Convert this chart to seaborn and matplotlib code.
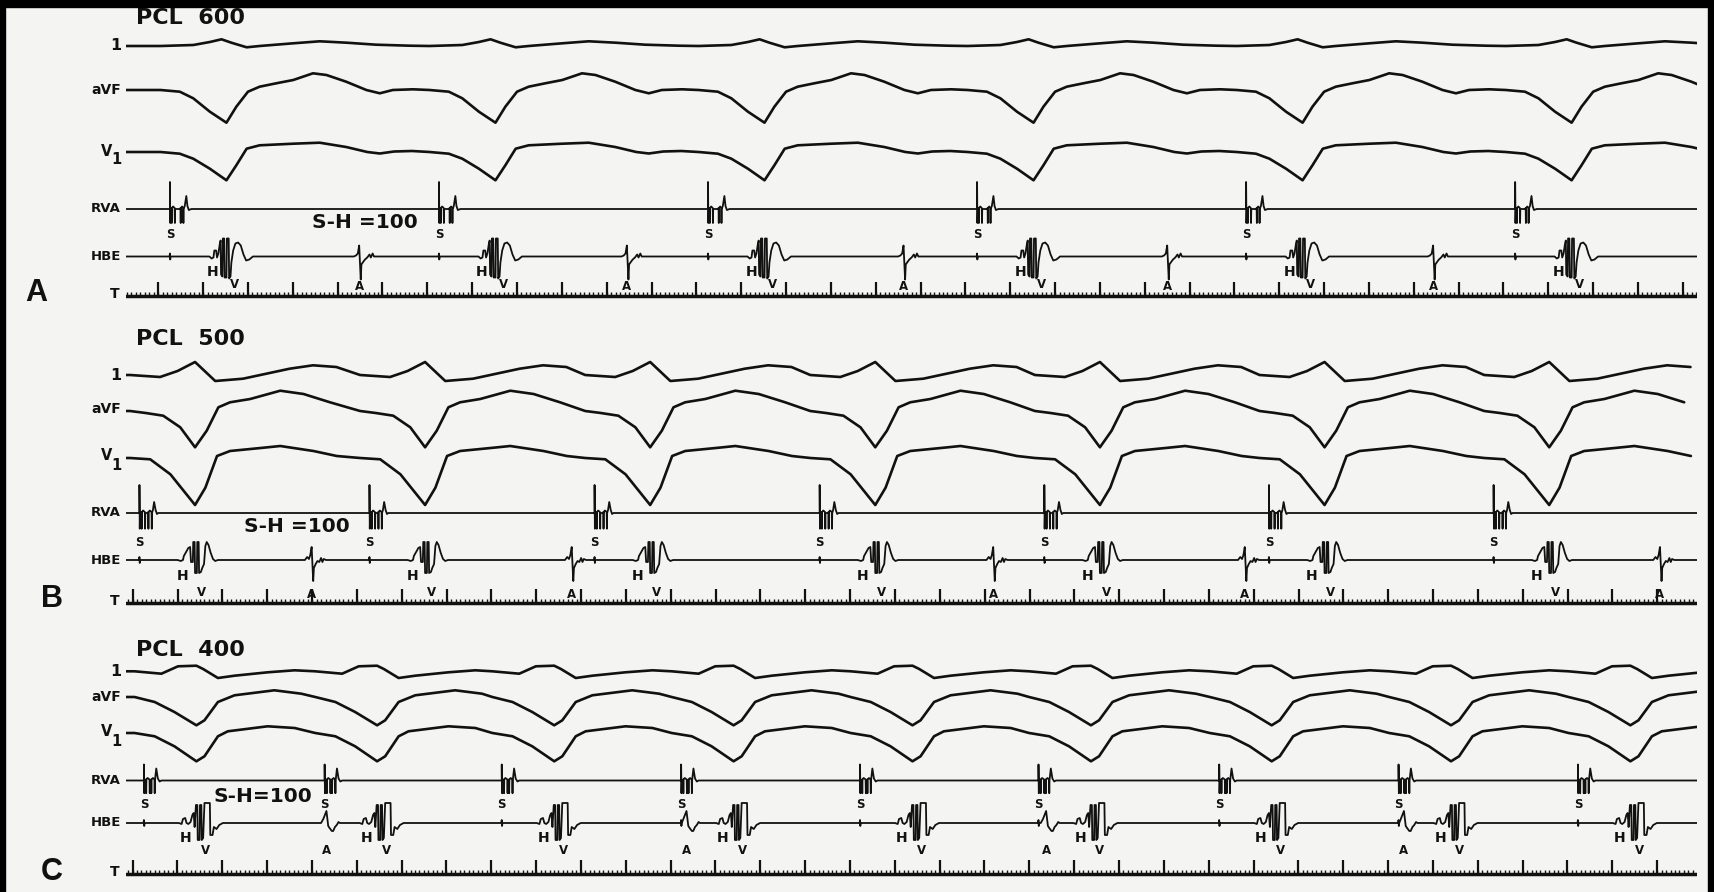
import numpy as np
import pandas as pd
import matplotlib
matplotlib.use("Agg")
import matplotlib.pyplot as plt
from matplotlib.patches import Rectangle
import seaborn as sns

# ------------------------------------------------------------------ data
# times in ms, deflections in px (positive = upwards)
PANELS = ["A", "B", "C"]
TITLES = {"A": "PCL  600", "B": "PCL  500", "C": "PCL  400"}
SH_TEXT = {"A": "S-H =100", "B": "S-H =100", "C": "S-H=100"}

# stimulus (S) times and atrial (A) times on the HBE per panel
S_A = [98, 698, 1298, 1898, 2498, 3098]
S_B = [30, 543, 1045, 1547, 2048, 2549, 3050]
S_C = [40, 443, 838, 1238, 1637, 2035, 2438, 2838, 3238]
A_A = [520, 1117, 1734, 2322, 2915]
A_B = [414, 994, 1934, 2495, 3421]
A_C = [447, 1250, 2052, 2850]

# surface leads, one beat (ms after S, deflection)
L1_A_T = [-21, 52, 89, 115, 137, 171, 200, 275, 334, 394, 460, 535]
L1_A_V = [0, 1, 4, 6.7, 3.3, -1.3, 0, 2.7, 4.7, 3.3, 1.3, 0.3]
AVF_A_T = [-21, 22, 52, 89, 126, 148, 174, 200, 237, 275, 319, 349, 393, 438, 468, 497, 542]
AVF_A_V = [0, -1.7, -8.3, -21.7, -32.7, -16.7, -1.7, 3.3, 6.7, 10, 16.7, 15, 8.3, 0, -3.3, 0, 0.7]
V1_A_T = [-21, 22, 52, 89, 126, 148, 171, 200, 275, 334, 393, 440, 468, 500, 540]
V1_A_V = [0, -1.7, -6.7, -16.7, -28.3, -13.3, 3.3, 6.7, 8.3, 9.3, 5, 0, -1.5, 0.5, 1]

L1_B_T = [-21, 46, 85, 124, 169, 231, 283, 335, 387, 439]
L1_B_V = [2, 0, 6, 15, -4, -1.7, 3.3, 8.3, 11.7, 10]
AVF_B_T = [-21, 14, 53, 91, 124, 150, 176, 202, 247, 314, 366, 425]
AVF_B_V = [-2, -4, -6.7, -18.3, -38.3, -21.7, 1.7, 6.7, 10, 18.3, 15, 6.7]
V1_B_T = [-21, 24, 69, 124, 147, 173, 202, 277, 314, 388, 440]
V1_B_V = [-1, -2.3, -17.3, -48, -30.7, 1, 6, 9.3, 11, 6, 1]

L1_C_T = [-21, 39, 76, 117, 132, 165, 202, 276, 336]
L1_C_V = [1.7, -0.7, 6.7, 7.3, 4, -5, -2.7, 0.7, 2.7]
AVF_C_T = [-21, 24, 68, 117, 135, 165, 202, 291, 351]
AVF_C_V = [0, -5, -15, -28.3, -23.3, -5, 1.7, 6.7, 3.3]
V1_C_T = [-21, 24, 68, 117, 135, 165, 187, 276, 336]
V1_C_V = [0, -3.3, -13.3, -28.3, -23.3, -3.3, 1.7, 6.7, 5]

# RVA electrogram after each stimulus
RVA_A_T = [-4, 0, 0, 0.7, 1.5, 3.5, 4, 4.5, 7, 10.5, 11, 11.5, 14, 22, 23.5, 24, 24.5, 27, 29.5, 30, 30.5, 33, 36.5, 39, 42, 48]
RVA_A_V = [0, 0, 27, -14, 0, 1, -14, 1, 2.5, 1, -14, 0, 0, 0, 1, -14, 1, 2.5, 1, -14, 0, 3, 13, 3, -1, 0]
RVA_B_T = [-4, 0, 0, 0.7, 1.5, 4.5, 5, 5.5, 8, 12, 12.5, 13, 15, 19, 19.5, 20, 20.5, 23, 27, 27.5, 28, 30, 32.7, 36, 39, 42]
RVA_B_V = [0, 0, 28, -15.7, 0, 1, -15.7, 1, 2.5, 1, -15.7, 0, 0, 0, 1, -15.7, 1, 2.5, 1, -15.7, 0, 3, 11, 3, -1, 0]
RVA_C_T = [-4, 0, 0, 0.7, 1.5, 4.5, 5, 5.5, 8, 12.5, 13, 13.5, 15, 16, 16.5, 17, 20, 23.5, 24, 24.5, 27.5, 31, 35, 39]
RVA_C_V = [0, 0, 16, -12.7, 0, 1, -12.7, 1, 2.5, 1, -12.7, 0, 0, 1, -12.7, 1, 2.5, 1, -12.7, 0, 12, 2, -1, 0]

# HBE: stimulus artefact, His-ventricular complex (ms after S), atrial complex (ms about A)
SPIKE_T = [-1, 0, 0.6, 1.5]
SPIKE_V = [0, 3, -3, 0]
HV_A_T = [88, 93, 97, 99, 103, 105, 108, 111, 113, 114, 117, 118, 121, 122, 126, 127, 131, 132, 135, 137, 141, 146, 152, 158, 164, 170, 177, 185]
HV_A_V = [0, -2, -1, 6, 6, -1, 3, 12, 16, -18, -20, 18, 18, -21, -21, 18, 18, -22, -20, -6, 6, 13, 14, 11, 2, -4, -3, 0]
HV_B_T = [85, 92, 97, 99, 104, 109, 113, 115, 119, 120, 123, 124, 128, 129, 132, 133, 137, 140, 144, 147, 150, 154, 159, 164, 169, 175]
HV_B_V = [0, -1, 0, 4, 8, 12, 13, -2, -2, 18, 18, -13, -13, 18, 18, -13, -12, -8, -4, 14, 18, 15, 7, 1, -1, 0]
HV_C_T = [78, 84, 87, 92, 95, 99, 104, 108, 111, 113, 116, 119, 120, 124, 125, 128, 129, 132, 133, 135, 147, 148, 153, 156, 162, 168, 176]
HV_C_V = [0, -1, 4, 5, 0, -1, 1, 8, 10, -4, 18, 18, -17, -17, 18, 18, -17, -15, -3, 20, 20, -12, -12, -4, -6, -2, 0]
AC_A_T = [-12, -7, -3, 0, 3.5, 5, 8, 13, 18, 23, 26, 30, 33, 40]
AC_A_V = [0, 1, 3, 11, -23, -8, -6, -3, -1, 2, -1, 3, 0, 0]
AC_B_T = [-15, -10, -6, -3, 0, 3.5, 5, 9, 13, 17, 21, 24, 27, 32]
AC_B_V = [0, 3, 1, 5, 13, -21, -8, -4, -1, -2, 2, -2, 1, 0]
AC_C_T = [-12, -7, 0, 4, 7, 12, 15, 19, 23, 27, 30]
AC_C_V = [0, 4, 12, -3, -5, -8, -8, -4, -2, 1, 0]

# time-scale: first major (100 ms) tick per panel
T_FIRST_MAJOR = {"A": 72, "B": 15, "C": 14.5}

DATA = {
    "A": dict(S=S_A, A=A_A, L1=(L1_A_T, L1_A_V), AVF=(AVF_A_T, AVF_A_V), V1=(V1_A_T, V1_A_V),
              RVA=(RVA_A_T, RVA_A_V), HV=(HV_A_T, HV_A_V), AC=(AC_A_T, AC_A_V)),
    "B": dict(S=S_B, A=A_B, L1=(L1_B_T, L1_B_V), AVF=(AVF_B_T, AVF_B_V), V1=(V1_B_T, V1_B_V),
              RVA=(RVA_B_T, RVA_B_V), HV=(HV_B_T, HV_B_V), AC=(AC_B_T, AC_B_V)),
    "C": dict(S=S_C, A=A_C, L1=(L1_C_T, L1_C_V), AVF=(AVF_C_T, AVF_C_V), V1=(V1_C_T, V1_C_V),
              RVA=(RVA_C_T, RVA_C_V), HV=(HV_C_T, HV_C_V), AC=(AC_C_T, AC_C_V)),
}

# ------------------------------------------------------------------ layout
W, H = 1715, 892
PX0, PX1 = 126, 1697
PX_PER_MS = 0.4484
T_END = (PX1 - PX0) / PX_PER_MS
BG = "#f4f4f2"
INK = "#111111"

def ms(px):
    return (px - PX0) / PX_PER_MS

ROWS = {  # baselines in figure px from top
    "A": dict(title=18, L1=46, AVF=90, V1=152, RVA=209, HBE=256.5, T=296, letter=(36, 293),
              sh=(365, 222.5), s_dy=25, h_dx=96, h_dy=16, v_dx=143, v_dy=28, a_dy=30),
    "B": dict(title=339, L1=377, AVF=409, V1=457, RVA=513, HBE=560, T=603, letter=(52, 599),
              sh=(297, 526), s_dy=29, h_dx=96, h_dy=16, v_dx=138, v_dy=32, a_dy=34),
    "C": dict(title=650, L1=673, AVF=697, V1=733, RVA=780.5, HBE=823, T=874, letter=(52, 872),
              sh=(263, 797), s_dy=24.5, h_dx=93, h_dy=15, v_dx=137, v_dy=27, a_dy=27.5),
}


def tile(times, tt, vv):
    xs, ys = [], []
    for s in times:
        xs += [s + t for t in tt]
        ys += list(vv)
    return xs, ys


def merge(events, end):
    events = sorted(events, key=lambda e: e[0] + e[1][0])
    xs, ys = [0.0], [0.0]
    for t0, tt, vv in events:
        for a, b in zip(tt, vv):
            x = t0 + a
            if x < xs[-1]:
                continue
            xs.append(x)
            ys.append(b)
    xs.append(end + 50)
    ys.append(0.0)
    return xs, ys


records = []
for p in PANELS:
    d, r = DATA[p], ROWS[p]
    for key in ["L1", "AVF", "V1"]:
        tt, vv = d[key]
        xs, ys = tile(d["S"], tt, vv)
        xs = [0.0] + xs
        ys = [vv[0]] + ys
        for x, y in zip(xs, ys):
            records.append((f"{p}-{key}", "surface", x, r[key] - y))
    xs, ys = merge([(s, *d["RVA"]) for s in d["S"]], T_END)
    for x, y in zip(xs, ys):
        records.append((f"{p}-RVA", "intra", x, r["RVA"] - y))
    ev = [(s, SPIKE_T, SPIKE_V) for s in d["S"]]
    ev += [(s, *d["HV"]) for s in d["S"]]
    ev += [(a, *d["AC"]) for a in d["A"]]
    xs, ys = merge(ev, T_END)
    for x, y in zip(xs, ys):
        records.append((f"{p}-HBE", "intra", x, r["HBE"] - y))
    records.append((f"{p}-T", "time", 0.0, r["T"]))
    records.append((f"{p}-T", "time", T_END, r["T"]))

df = pd.DataFrame(records, columns=["trace", "kind", "t", "y"])

# ------------------------------------------------------------------ draw
sns.set_theme(style="white")
plt.rcParams["font.family"] = ["DejaVu Sans"]

fig = plt.figure(figsize=(W / 100, H / 100), dpi=100)
fig.patch.set_facecolor(BG)
ax = fig.add_axes([PX0 / W, 0, (PX1 - PX0) / W, 1])
ax.set_facecolor("none")

LW = {"surface": 1.9, "intra": 1.3, "time": 2.5}
for kind, lw in LW.items():
    sns.lineplot(data=df[df.kind == kind], x="t", y="y", units="trace",
                 estimator=None, sort=False, color=INK, linewidth=lw, ax=ax, legend=False)

ax.set_xlim(0, T_END)
ax.set_ylim(H, 0)
ax.axis("off")

bold = dict(fontweight="bold", color=INK)
for p in PANELS:
    d, r = DATA[p], ROWS[p]
    first = T_FIRST_MAJOR[p]
    minor = np.arange(first % 10, T_END, 10)
    major = np.arange(first % 100, T_END, 100)
    ax.vlines(minor, r["T"], r["T"] - 4.5, color=INK, linewidth=1.0)
    ax.vlines(major, r["T"], r["T"] - 14, color=INK, linewidth=1.6)

    ax.text(ms(136), r["title"], TITLES[p], ha="left", va="center", fontsize=16, **bold)
    ax.text(ms(121), r["L1"] - 1, "1", ha="right", va="center", fontsize=11.5, **bold)
    ax.text(ms(121), r["AVF"], "aVF", ha="right", va="center", fontsize=10, **bold)
    ax.text(ms(112), r["V1"] - 1, "V", ha="right", va="center", fontsize=10.5, **bold)
    ax.text(ms(111), r["V1"] + 8, "1", ha="left", va="center", fontsize=10.5, **bold)
    ax.text(ms(121), r["RVA"], "RVA", ha="right", va="center", fontsize=9.5, **bold)
    ax.text(ms(121), r["HBE"], "HBE", ha="right", va="center", fontsize=9.5, **bold)
    ax.text(ms(119), r["T"] - 2, "T", ha="right", va="center", fontsize=10, **bold)
    lx, ly = r["letter"]
    ax.text(ms(lx), ly, p, ha="center", va="center", fontsize=22,
            fontfamily="Liberation Sans", fontweight="bold", color=INK)
    sx, sy = r["sh"]
    ax.text(ms(sx), sy, SH_TEXT[p], ha="center", va="center", fontsize=14.5, **bold)

    for s in d["S"]:
        ax.text(s, r["RVA"] + r["s_dy"], "S", ha="center", va="center", fontsize=8.5, **bold)
        ax.text(s + r["h_dx"], r["HBE"] + r["h_dy"], "H", ha="center", va="center", fontsize=10, **bold)
        ax.text(s + r["v_dx"], r["HBE"] + r["v_dy"], "V", ha="center", va="center", fontsize=8.5, **bold)
    for a in d["A"]:
        ax.text(a, r["HBE"] + r["a_dy"], "A", ha="center", va="center", fontsize=8.5, **bold)

# black scan border
fig.add_artist(Rectangle((0, 1 - 7 / H), 1, 7 / H, transform=fig.transFigure, color="black", zorder=10))
fig.add_artist(Rectangle((0, 0), 5 / W, 1, transform=fig.transFigure, color="black", zorder=10))
fig.add_artist(Rectangle((1708 / W, 0), 7 / W, 1, transform=fig.transFigure, color="black", zorder=10))

fig.savefig("out.png", dpi=100, facecolor=BG)
